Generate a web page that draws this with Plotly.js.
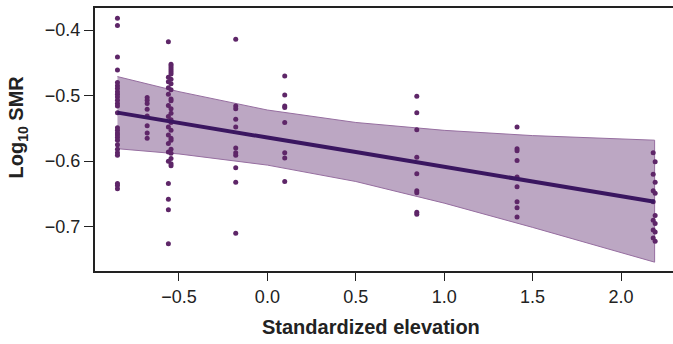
<!DOCTYPE html>
<html>
<head>
<meta charset="utf-8">
<script src="https://cdn.plot.ly/plotly-3.0.1.min.js"></script>
<style>
html,body{margin:0;padding:0;background:#fff;overflow:hidden;}
#chart{width:676px;height:344px;}
</style>
</head>
<body>
<div id="chart"></div>
<script>
// Observed points: x (standardized elevation) and y (log10 SMR)
const ptsX = [
  -0.848,-0.848,-0.848,-0.848,-0.848,-0.848,-0.848,-0.848,-0.848,-0.848,-0.848,-0.848,-0.848,-0.848,-0.848,-0.848,-0.848,-0.848,-0.848,-0.848,-0.848,-0.848,-0.848,-0.848,-0.848,-0.848,-0.848,
  -0.68,-0.68,-0.68,-0.68,-0.68,-0.68,-0.68,-0.68,
  -0.56,-0.56,-0.56,-0.56,-0.56,-0.56,-0.56,-0.56,-0.56,-0.56,-0.56,-0.56,-0.56,-0.56,-0.56,-0.56,
  -0.545,-0.545,-0.545,-0.545,-0.545,-0.545,-0.545,-0.545,-0.545,-0.545,-0.545,-0.545,-0.545,-0.545,-0.545,-0.545,-0.545,-0.545,-0.545,-0.545,-0.545,-0.545,-0.545,
  -0.179,-0.179,-0.179,-0.179,-0.179,-0.179,-0.179,-0.179,-0.179,-0.179,-0.179,
  0.098,0.098,0.098,0.098,0.098,0.098,0.098,0.098,
  0.845,0.845,0.845,0.845,0.845,0.845,0.845,0.845,0.845,
  1.412,1.412,1.412,1.412,1.412,1.412,1.412,1.412,1.412,
  2.182,2.193,2.182,2.193,2.182,2.193,2.182,2.193,2.182,2.193,2.182,2.193,2.182,2.193
];
const ptsY = [
  -0.382,-0.393,-0.441,-0.461,-0.480,-0.485,-0.489,-0.494,-0.498,-0.502,-0.507,-0.512,-0.516,-0.526,-0.549,-0.553,-0.557,-0.560,-0.564,-0.568,-0.575,-0.582,-0.587,-0.591,-0.634,-0.637,-0.642,
  -0.503,-0.507,-0.512,-0.521,-0.531,-0.546,-0.557,-0.565,
  -0.418,-0.472,-0.479,-0.488,-0.498,-0.515,-0.532,-0.548,-0.560,-0.573,-0.586,-0.600,-0.634,-0.658,-0.674,-0.726,
  -0.452,-0.455,-0.458,-0.461,-0.464,-0.467,-0.475,-0.482,-0.491,-0.505,-0.508,-0.520,-0.527,-0.537,-0.541,-0.553,-0.565,-0.568,-0.582,-0.588,-0.596,-0.604,-0.607,
  -0.414,-0.516,-0.520,-0.536,-0.548,-0.580,-0.587,-0.591,-0.610,-0.632,-0.710,
  -0.470,-0.499,-0.516,-0.518,-0.541,-0.587,-0.595,-0.631,
  -0.501,-0.526,-0.552,-0.594,-0.619,-0.645,-0.648,-0.678,-0.681,
  -0.548,-0.581,-0.584,-0.599,-0.624,-0.639,-0.662,-0.671,-0.685,
  -0.587,-0.601,-0.620,-0.632,-0.645,-0.649,-0.662,-0.683,-0.690,-0.695,-0.705,-0.708,-0.717,-0.722
];
// Fitted line and confidence band
const fitX   = [-0.848, -0.5, 0.0, 0.5, 1.0, 1.5, 2.19];
const fitY   = [-0.526, -0.542, -0.564, -0.586, -0.608, -0.631, -0.662];
const bandUp = [-0.471, -0.494, -0.522, -0.541, -0.553, -0.561, -0.568];
const bandLo = [-0.581, -0.589, -0.606, -0.631, -0.664, -0.701, -0.754];
const xTicks = [-0.5, 0.0, 0.5, 1.0, 1.5, 2.0];
const yTicks = [-0.7, -0.6, -0.5, -0.4];
const xTitle = 'Standardized elevation';
const yTitle = 'Log<sub>10</sub> SMR';

const bandX = fitX.concat(fitX.slice().reverse());
const bandY = bandUp.concat(bandLo.slice().reverse());

const traces = [
  {x: bandX, y: bandY, type: 'scatter', mode: 'lines', fill: 'toself',
   fillcolor: 'rgb(188,167,195)', line: {color: 'rgb(150,110,160)', width: 1},
   hoverinfo: 'skip', showlegend: false},
  {x: ptsX, y: ptsY, type: 'scatter', mode: 'markers',
   marker: {color: 'rgb(94,38,104)', size: 5}, showlegend: false},
  {x: fitX, y: fitY, type: 'scatter', mode: 'lines',
   line: {color: 'rgb(58,22,96)', width: 4}, showlegend: false}
];

const FAM = 'Liberation Sans, Arial, Helvetica, sans-serif';
const axFont = {family: FAM, size: 18, color: '#222'};
const titleFont = {family: FAM, size: 20, color: '#222'};
const fmt = v => v.toFixed(1).replace('-', '\u2212');
const layout = {
  width: 676, height: 344,
  margin: {l: 95, r: 0, t: 8, b: 73},
  paper_bgcolor: '#fff', plot_bgcolor: '#fff',
  showlegend: false,
  xaxis: {
    range: [-0.975, 2.311], tickvals: xTicks, ticktext: xTicks.map(fmt),
    ticks: 'outside', ticklen: 8, tickwidth: 1, tickcolor: '#222',
    showline: true, linecolor: '#222', linewidth: 2, mirror: true,
    showgrid: false, zeroline: false, tickfont: axFont
  },
  yaxis: {
    range: [-0.7675, -0.3664], tickvals: yTicks, ticktext: yTicks.map(fmt),
    ticks: 'outside', ticklen: 9, tickwidth: 1, tickcolor: '#222',
    showline: true, linecolor: '#222', linewidth: 2, mirror: true,
    showgrid: false, zeroline: false, tickfont: axFont
  },
  annotations: [
    {text: '<b>' + xTitle + '</b>', xref: 'paper', yref: 'paper', x: 0.475, y: -0.213,
     xanchor: 'center', yanchor: 'middle', showarrow: false, font: titleFont},
    {text: '<b>' + yTitle + '</b>', xref: 'paper', yref: 'paper', x: -0.1334, y: 0.5475,
     xanchor: 'center', yanchor: 'middle', textangle: -90, showarrow: false, font: titleFont}
  ]
};

Plotly.newPlot('chart', traces, layout, {displayModeBar: false, staticPlot: true});
</script>
</body>
</html>
